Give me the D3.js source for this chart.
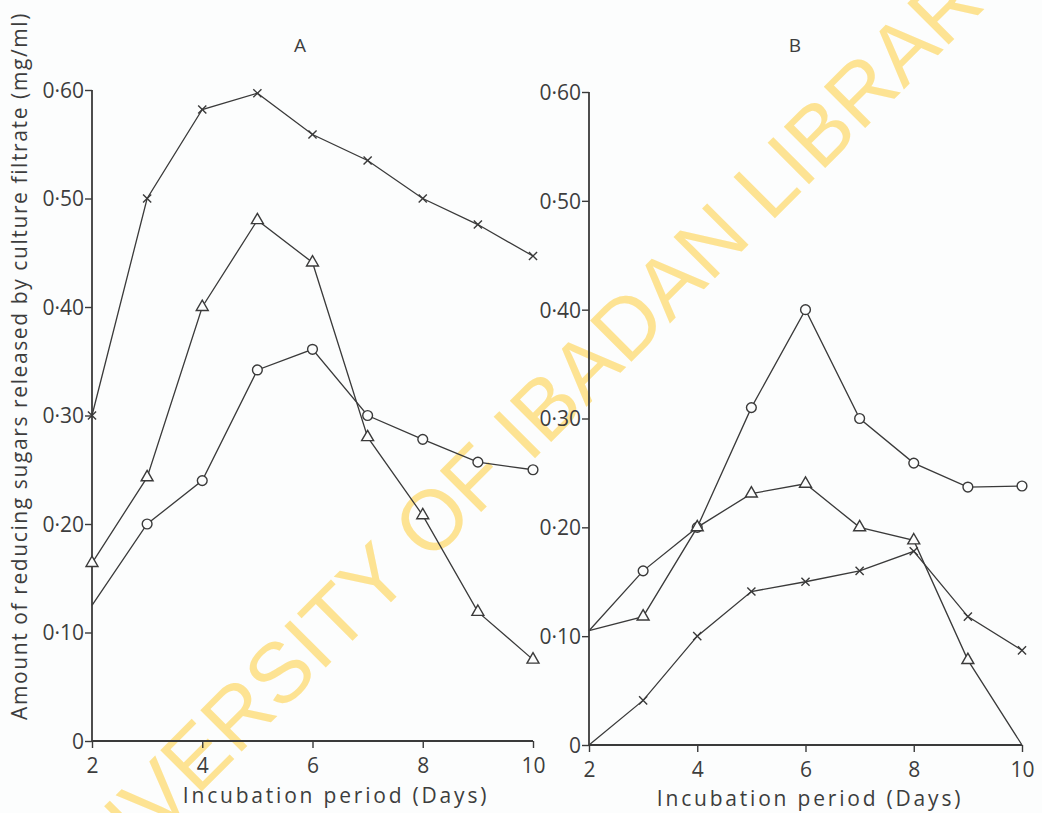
<!DOCTYPE html>
<html>
<head>
<meta charset="utf-8">
<script src="https://cdn.jsdelivr.net/npm/d3@7"></script>
<style>
  html, body { margin: 0; padding: 0; background: #fcfdfd; }
  svg { display: block; }
  text { font-family: "Open Sans", "DejaVu Sans", sans-serif; fill: #3d3d3d; }
</style>
</head>
<body>
<svg id="chart" width="1042" height="813"></svg>
<script>
// ---- data ----
const days = [2, 3, 4, 5, 6, 7, 8, 9, 10];
const xTickValues = [2, 4, 6, 8, 10];
const yTickValues = [0, 0.1, 0.2, 0.3, 0.4, 0.5, 0.6];
const yTickLabels = ["0", "0·10", "0·20", "0·30", "0·40", "0·50", "0·60"];
const panelTitles = ["A", "B"];
const xAxisTitle = "Incubation period (Days)";
const yAxisTitle = "Amount of reducing sugars released by culture filtrate (mg/ml)";
const watermarkText = "UNIVERSITY OF IBADAN LIBRARY";

// Panel A
const aCross    = [0.30, 0.50, 0.582, 0.597, 0.559, 0.535, 0.50, 0.476, 0.447];
const aTriangle = [0.164, 0.243, 0.40, 0.48, 0.441, 0.28, 0.208, 0.119, 0.075];
const aCircle   = [0.125, 0.20, 0.24, 0.342, 0.361, 0.30, 0.278, 0.257, 0.25];
// Panel B
const bCircle   = [0.105, 0.16, 0.20, 0.31, 0.40, 0.30, 0.259, 0.237, 0.238];
const bTriangle = [0.105, 0.118, 0.20, 0.231, 0.24, 0.20, 0.188, 0.078, 0.0];
const bCross    = [0.0, 0.041, 0.10, 0.141, 0.15, 0.16, 0.178, 0.118, 0.087];
// points plotted without a marker (index into days)
const aCircleNoMarker = [0];
const bCircleNoMarker = [0];
const bTriangleNoMarker = [0, 8];
const bCrossNoMarker = [0];

// ---- drawing ----
const svg = d3.select("#chart");
const ink = "#3a3a3a";

const panels = [
  { title: panelTitles[0], xr: [92, 533], yr: [741, 90], titleX: 300, xTitleX: 336, xTitleY: 803,
    series: [
      { v: aCross, shape: "cross", skip: [] },
      { v: aTriangle, shape: "triangle", skip: [] },
      { v: aCircle, shape: "circle", skip: aCircleNoMarker }
    ] },
  { title: panelTitles[1], xr: [589, 1022], yr: [745, 92], titleX: 795, xTitleX: 810, xTitleY: 806,
    series: [
      { v: bCircle, shape: "circle", skip: bCircleNoMarker },
      { v: bTriangle, shape: "triangle", skip: bTriangleNoMarker },
      { v: bCross, shape: "cross", skip: bCrossNoMarker }
    ] }
];

// watermark (behind)
svg.append("text")
  .attr("transform", "translate(518,432) rotate(-45)")
  .attr("text-anchor", "middle")
  .attr("dy", "0.36em")
  .style("font-family", "'Liberation Sans', Arial, sans-serif")
  .style("font-size", "85px")
  .style("fill", "#fde393")
  .text(watermarkText);

const symGen = {
  circle: d3.symbol().type(d3.symbolCircle).size(75),
  triangle: d3.symbol().type(d3.symbolTriangle).size(62),
  cross: d3.symbol().type(d3.symbolX).size(45)
};

panels.forEach(p => {
  const x = d3.scaleLinear().domain([2, 10]).range(p.xr);
  const y = d3.scaleLinear().domain([0, 0.6]).range(p.yr);
  const g = svg.append("g");

  // y axis
  const yAxis = d3.axisLeft(y).tickValues(yTickValues)
    .tickSize(7).tickPadding(1)
    .tickFormat((d, i) => yTickLabels[i]);
  const ya = g.append("g").attr("transform", `translate(${p.xr[0]},0)`).call(yAxis);
  ya.select(".domain").attr("d", `M0,${y(0)}V${y(0.6)}`).attr("stroke", ink).attr("stroke-width", 1.8);
  ya.selectAll(".tick line").attr("stroke", ink).attr("stroke-width", 1.4);
  ya.selectAll(".tick text").style("font-size", "21px").attr("fill", "#3d3d3d").attr("dy", "0.35em")
    .style("font-family", "'Open Sans', sans-serif");

  // x axis
  const xAxis = d3.axisBottom(x).tickValues(xTickValues)
    .tickSize(7).tickPadding(10).tickFormat(d3.format("d"));
  const xa = g.append("g").attr("transform", `translate(0,${y(0)})`).call(xAxis);
  xa.select(".domain").attr("d", `M${x(2)},0H${x(10)}`).attr("stroke", ink).attr("stroke-width", 1.8);
  xa.selectAll(".tick line").attr("stroke", ink).attr("stroke-width", 1.4);
  xa.selectAll(".tick text").style("font-size", "21px").attr("fill", "#3d3d3d");

  // x title
  g.append("text")
    .attr("x", p.xTitleX).attr("y", p.xTitleY)
    .attr("text-anchor", "middle")
    .style("font-size", "21px").style("letter-spacing", "2.8px")
    .text(xAxisTitle);

  // panel title
  g.append("text").attr("x", p.titleX).attr("y", 52)
    .attr("text-anchor", "middle").style("font-size", "19px").text(p.title);

  // series
  const line = d3.line().x((d, i) => x(days[i])).y(d => y(d));
  p.series.forEach(s => {
    g.append("path").datum(s.v).attr("d", line)
      .attr("fill", "none").attr("stroke", ink).attr("stroke-width", 1.3);
    g.selectAll(null).data(s.v.map((d, i) => ({ d, i })).filter(o => !s.skip.includes(o.i)))
      .enter().append("path")
      .attr("transform", o => `translate(${x(days[o.i])},${y(o.d)})`)
      .attr("d", symGen[s.shape]())
      .attr("fill", s.shape === "cross" ? "none" : "#fcfdfd")
      .attr("stroke", ink).attr("stroke-width", 1.4);
  });
});

// shared y title
svg.append("text")
  .attr("transform", "translate(27,366) rotate(-90)")
  .attr("text-anchor", "middle")
  .style("font-size", "21px").style("letter-spacing", "1.6px")
  .text(yAxisTitle);
</script>
</body>
</html>
